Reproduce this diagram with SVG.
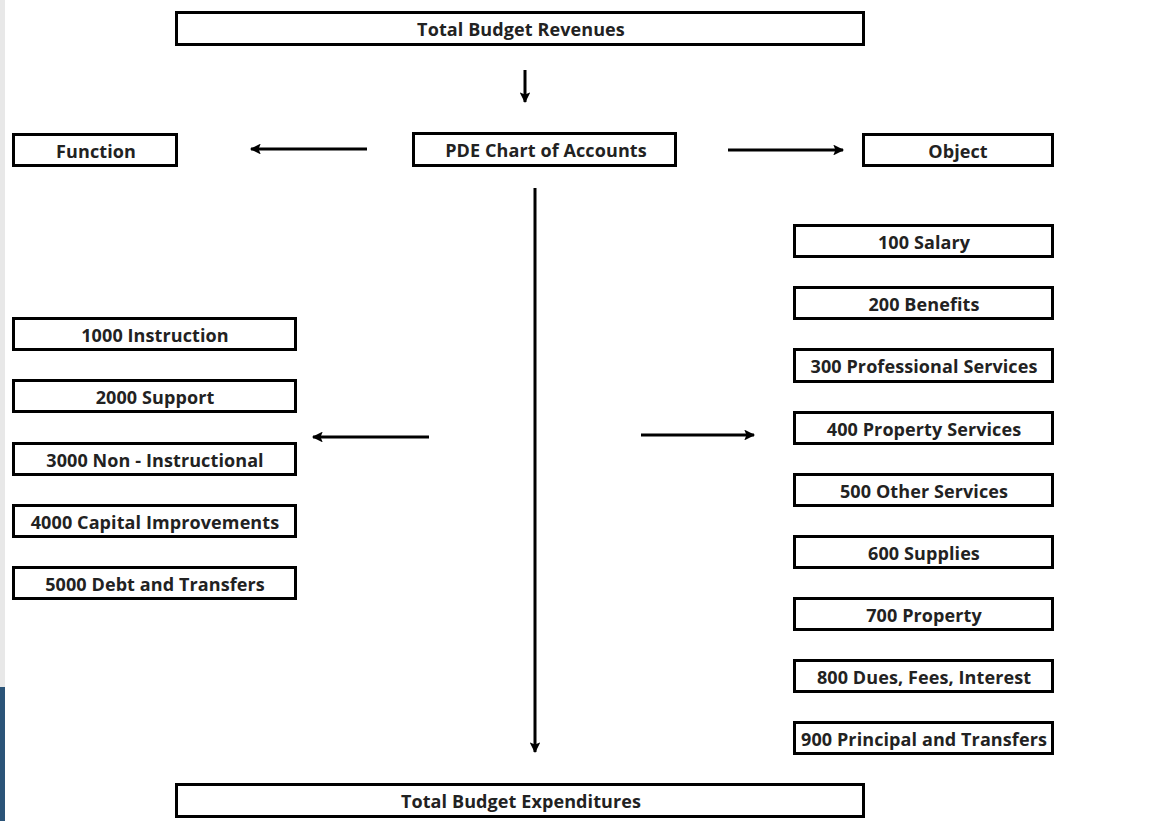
<svg xmlns="http://www.w3.org/2000/svg" width="1166" height="821" viewBox="0 0 1166 821">
<style>
.box{fill:#fff;stroke:#000;stroke-width:3}
.t{font-family:"Open Sans","Liberation Sans",sans-serif;font-weight:bold;font-size:18px;fill:#222;text-anchor:middle;dominant-baseline:central;letter-spacing:0.1px}
.c{stroke:#000;stroke-width:3;fill:none;marker-end:url(#ah)}
</style>
<defs>
<marker id="ah" viewBox="0 0 10 10" refX="9" refY="5" markerWidth="4" markerHeight="3.6" orient="auto" markerUnits="strokeWidth">
<path d="M0,0 L10,5 L0,10 L2,5 z" fill="#000"/>
</marker>
</defs>
<rect x="0" y="0" width="1166" height="821" fill="#fff"/>
<rect x="0" y="0" width="5" height="687" fill="#e8e8e8"/>
<rect x="0" y="687" width="5" height="134" fill="#2b5478"/>
<g id="connectors">
<line class="c" x1="525" y1="70" x2="525" y2="102"/>
<line class="c" x1="367" y1="149" x2="251" y2="149"/>
<line class="c" x1="728" y1="150" x2="843" y2="150"/>
<line class="c" x1="535" y1="188" x2="535" y2="752"/>
<line class="c" x1="429" y1="437" x2="313" y2="437"/>
<line class="c" x1="641" y1="435" x2="754" y2="435"/>
</g>
<g id="n-revenues"><rect class="box" x="176.5" y="12.5" width="687" height="32"/><text class="t" x="521" y="29">Total Budget Revenues</text></g>
<g id="n-function"><rect class="box" x="13.5" y="134.5" width="163" height="31"/><text class="t" x="96" y="151">Function</text></g>
<g id="n-pde"><rect class="box" x="413.5" y="133.5" width="262" height="32"/><text class="t" x="546" y="150">PDE Chart of Accounts</text></g>
<g id="n-object"><rect class="box" x="863.5" y="134.5" width="189" height="31"/><text class="t" x="958" y="151">Object</text></g>
<g id="n-1000"><rect class="box" x="13.5" y="318.5" width="282" height="31"/><text class="t" x="155" y="335">1000 Instruction</text></g>
<g id="n-2000"><rect class="box" x="13.5" y="380.5" width="282" height="31"/><text class="t" x="155" y="397">2000 Support</text></g>
<g id="n-3000"><rect class="box" x="13.5" y="443.5" width="282" height="31"/><text class="t" x="155" y="460">3000 Non - Instructional</text></g>
<g id="n-4000"><rect class="box" x="13.5" y="505.5" width="282" height="31"/><text class="t" x="155" y="522">4000 Capital Improvements</text></g>
<g id="n-5000"><rect class="box" x="13.5" y="567.5" width="282" height="31"/><text class="t" x="155" y="584">5000 Debt and Transfers</text></g>
<g id="n-100"><rect class="box" x="794.5" y="225.5" width="258" height="31"/><text class="t" x="924" y="242">100 Salary</text></g>
<g id="n-200"><rect class="box" x="794.5" y="287.5" width="258" height="31"/><text class="t" x="924" y="304">200 Benefits</text></g>
<g id="n-300"><rect class="box" x="794.5" y="349.5" width="258" height="32"/><text class="t" x="924" y="366">300 Professional Services</text></g>
<g id="n-400"><rect class="box" x="794.5" y="412.5" width="258" height="31"/><text class="t" x="924" y="429">400 Property Services</text></g>
<g id="n-500"><rect class="box" x="794.5" y="474.5" width="258" height="31"/><text class="t" x="924" y="491">500 Other Services</text></g>
<g id="n-600"><rect class="box" x="794.5" y="536.5" width="258" height="31"/><text class="t" x="924" y="553">600 Supplies</text></g>
<g id="n-700"><rect class="box" x="794.5" y="598.5" width="258" height="31"/><text class="t" x="924" y="615">700 Property</text></g>
<g id="n-800"><rect class="box" x="794.5" y="660.5" width="258" height="31"/><text class="t" x="924" y="677">800 Dues, Fees, Interest</text></g>
<g id="n-900"><rect class="box" x="794.5" y="722.5" width="258" height="31"/><text class="t" x="924" y="739">900 Principal and Transfers</text></g>
<g id="n-expenditures"><rect class="box" x="176.5" y="784.5" width="687" height="32"/><text class="t" x="521" y="801">Total Budget Expenditures</text></g>
</svg>
